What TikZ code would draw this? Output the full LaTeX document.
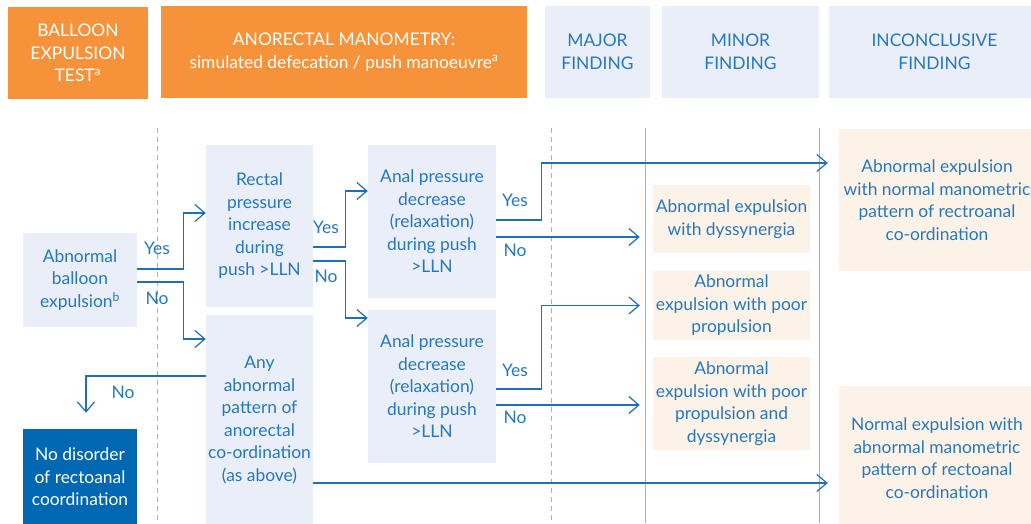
\documentclass[tikz,border=0pt]{standalone}
\usepackage{fontspec}
\setmainfont{Lato}
\usetikzlibrary{arrows.meta, calc, positioning}
\definecolor{myorange}{RGB}{245,146,58}
\definecolor{myheadblue}{RGB}{233,238,248}
\definecolor{mytextblue}{RGB}{38,120,190}
\definecolor{mylineblue}{RGB}{30,112,182}
\definecolor{mydarkblue}{RGB}{0,104,179}
\definecolor{mypeach}{RGB}{253,242,232}
\definecolor{mygridblue}{RGB}{140,184,226}

\begin{document}
\begin{tikzpicture}[x=1pt, y=-1pt, font=\fontsize{17.4}{22.5}\selectfont,
  headbox/.style={fill=myorange, text=white, align=center, inner sep=0pt, minimum height=92pt},
  colbox/.style={fill=myheadblue, text=mytextblue, align=center, inner sep=0pt, minimum height=92pt},
  stepbox/.style={fill=myheadblue, text=mytextblue, align=center, inner sep=0pt},
  resbox/.style={fill=mypeach, text=mytextblue, align=center, inner sep=0pt},
  lbl/.style={text=mytextblue, inner sep=0pt},
  link/.style={draw=mylineblue, line width=1.2pt},
  arr/.style={link, -{Straight Barb[length=10pt, width=17pt]}}]
  \useasboundingbox (0,0) rectangle (1031,523);
  \clip (0,0) rectangle (1031,523);
  % Column headers
  \node[headbox, minimum width=140pt] (balhead) at (78,53) {BALLOON\\EXPULSION\\TEST\textsuperscript{a}};
  \node[headbox, minimum width=366pt] (manhead) at (344,52) {ANORECTAL MANOMETRY:\\simulated defecation / push manoeuvre\textsuperscript{a}};
  \node[colbox, minimum width=105pt] (majhead) at (597.5,52) {MAJOR\\FINDING};
  \node[colbox, minimum width=157pt] (minhead) at (740.5,52) {MINOR\\FINDING};
  \node[colbox, minimum width=211pt] (inchead) at (934.5,52) {INCONCLUSIVE\\FINDING};
  % Column separators
  \draw[mygridblue, line width=0.8pt, dash pattern=on 5pt off 4pt] (157,128) -- (157,523);
  \draw[mygridblue, line width=0.8pt, dash pattern=on 5pt off 4pt] (551,128) -- (551,523);
  \draw[mygridblue, line width=0.8pt] (645,128) -- (645,523);
  \draw[mygridblue, line width=0.8pt] (819,128) -- (819,523);
  % Test steps
  \node[stepbox, minimum width=114pt, minimum height=94pt] (balloon) at (80,280) {Abnormal\\balloon\\expulsion\textsuperscript{b}};
  \node[stepbox, minimum width=107pt, minimum height=162pt] (rectal) at (259.5,226) {Rectal\\pressure\\increase\\during\\push >LLN};
  \node[stepbox, minimum width=107pt, minimum height=210pt] (anyabn) at (259.5,420) {Any\\abnormal\\pattern of\\anorectal\\co-ordination\\(as above)};
  \node[fill=mydarkblue, text=white, align=center, inner sep=0pt, minimum width=114pt, minimum height=96pt] (nodis) at (80,477) {No disorder\\of rectoanal\\coordination};
  \node[stepbox, minimum width=128pt, minimum height=153pt] (analone) at (432,221.5) {Anal pressure\\decrease\\(relaxation)\\during push\\>LLN};
  \node[stepbox, minimum width=128pt, minimum height=153pt] (analtwo) at (432,386.5) {Anal pressure\\decrease\\(relaxation)\\during push\\>LLN};
  % Findings
  \node[resbox, minimum width=157pt, minimum height=68pt] (dyss) at (731.5,219) {Abnormal expulsion\\with dyssynergia};
  \node[resbox, minimum width=157pt, minimum height=69pt] (poorprop) at (731.5,305.5) {Abnormal\\expulsion with poor\\propulsion};
  \node[resbox, minimum width=157pt, minimum height=93pt] (poordyss) at (731.5,403.5) {Abnormal\\expulsion with poor\\propulsion and\\dyssynergia};
  \node[resbox, minimum width=196pt, minimum height=142pt] (normman) at (937,200) {Abnormal expulsion\\with normal manometric\\pattern of rectroanal\\co-ordination};
  \node[resbox, minimum width=196pt, minimum height=144pt] (abnman) at (937,458) {Normal expulsion with\\abnormal manometric\\pattern of rectoanal\\co-ordination};
  % Connectors
  \draw[arr] ($(balloon.east)+(0,-11)$) -- ++(46,0) |- ($(rectal.west)+(0,-13)$);
  \draw[arr] ($(balloon.east)+(0,2)$) -- ++(46,0) |- ($(anyabn.west)+(0,-81)$);
  \draw[arr] ($(rectal.east)+(0,21)$) -- ++(32,0) |- ($(analone.west)+(0,-30.5)$);
  \draw[arr] ($(rectal.east)+(0,35)$) -- ++(32,0) |- ($(analtwo.west)+(0,-68.5)$);
  \draw[arr, shorten >=11pt] ($(analone.east)+(0,-1.5)$) -- ++(45,0) |- ($(normman.west)+(0,-37)$);
  \draw[arr, shorten >=13pt] ($(analone.east)+(0,15.5)$) coordinate (ona) -- (dyss.west |- ona);
  \draw[arr, shorten >=13pt] ($(analtwo.east)+(0,2.5)$) -- ++(45,0) |- (poorprop.west);
  \draw[arr, shorten >=13pt] ($(analtwo.east)+(0,18.5)$) coordinate (onb) -- (poordyss.west |- onb);
  \draw[arr, shorten >=16pt] ($(anyabn.west)+(0,-44)$) -| ($(nodis.north)+(6,0)$);
  \draw[arr, shorten >=11pt] ($(anyabn.east)+(0,63)$) coordinate (onc) -- (abnman.west |- onc);
  % Labels
  \node[lbl] (yesa) at (157,248) {Yes};
  \node[lbl] (noa) at (157,298) {No};
  \node[lbl] (yesb) at (326,227) {Yes};
  \node[lbl] (nob) at (326,276) {No};
  \node[lbl] (yesc) at (515,200) {Yes};
  \node[lbl] (noc) at (515,250) {No};
  \node[lbl] (yesd) at (515,370) {Yes};
  \node[lbl] (nod) at (515,417) {No};
  \node[lbl] (noe) at (123,392) {No};
\end{tikzpicture}
\end{document}
